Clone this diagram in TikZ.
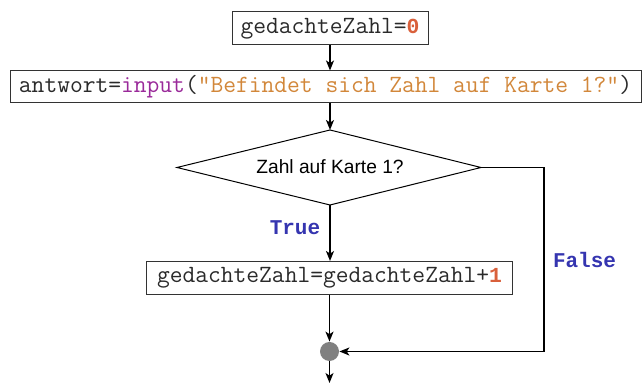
\documentclass[tikz,border=0pt]{standalone}
\usepackage{fontspec}
\setmainfont{Liberation Sans}
\newfontfamily\boldmono{Liberation Mono}
\usetikzlibrary{arrows.meta,shapes.geometric}
\definecolor{numc}{HTML}{D9603B}
\definecolor{kwc}{HTML}{9A2A9A}
\definecolor{strc}{HTML}{D2873A}
\definecolor{labc}{HTML}{3535B0}
\definecolor{txtc}{HTML}{2A2A2A}
\newcommand{\numtxt}[1]{\textcolor{numc}{{\boldmono\bfseries\fontsize{10.7}{12}\selectfont #1}}}
\tikzset{
  px/.style={x=0.5pt,y=-0.5pt},
  codebox/.style={draw=black!80,line width=0.5pt,fill=white,inner sep=0pt,
    font=\ttfamily\fontsize{12.4}{14}\selectfont,text=txtc,anchor=center},
  conn/.style={line width=0.75pt,-{Stealth[length=5pt,width=4pt,inset=1.3pt]}},
  lab/.style={font=\boldmono\bfseries\fontsize{10.5}{12}\selectfont,text=labc},
}
\begin{document}
\begin{tikzpicture}[px]
\useasboundingbox (0,0) rectangle (643,383);
\node[codebox,minimum width=196*0.5pt,minimum height=33*0.5pt] (b1) at (330,28.5)
  {gedachteZahl=\numtxt{0}};
\node[codebox,minimum width=631*0.5pt,minimum height=32*0.5pt] (b2) at (325.5,87)
  {antwort=\textcolor{kwc}{input}(\textcolor{strc}{"Befindet sich Zahl auf Karte 1?"})};
\coordinate (dt) at (330,130);
\coordinate (dl) at (177,167.5);
\coordinate (dr) at (481,167.5);
\coordinate (db) at (330,205);
\draw[line width=0.5pt] (dt) -- (dr) -- (db) -- (dl) -- cycle;
\node[font=\fontsize{9.6}{11}\selectfont] (dtext) at (330,167) {Zahl auf Karte 1?};
\node[codebox,minimum width=366*0.5pt,minimum height=33*0.5pt] (b3) at (329.5,278)
  {gedachteZahl=gedachteZahl+\numtxt{1}};
\node[circle,fill=black!50,inner sep=0pt,minimum size=19*0.5pt] (join) at (329.5,351.5) {};
\coordinate (fr) at (544,167.5);
\coordinate (out) at (329.5,383);
\draw[conn] (b1.south) -- (b2.north -| b1.south);
\draw[conn] (b2.south -| dt) -- (dt);
\draw[conn] (db) -- (b3.north -| db);
\draw[conn] (b3.south -| join) -- (join.north);
\draw[conn] (dr) -- (fr) |- (join.east);
\draw[conn] (join.south) -- (out);
\node[lab] (tl) at (295,228) {True};
\node[lab] (fl) at (584.5,260) {False};
\end{tikzpicture}
\end{document}
